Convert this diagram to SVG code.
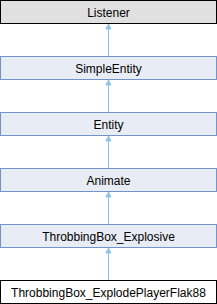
<svg xmlns="http://www.w3.org/2000/svg" width="217" height="304" viewBox="0 0 217 304">
<style>
.box{fill:#e8ecf5;stroke:#7394c8;stroke-width:1}
.root{fill:#e0e0e0;stroke:#000;stroke-width:1}
.leaf{fill:#fff;stroke:#000;stroke-width:1}
text{font-family:"Liberation Sans",Arial,sans-serif;font-size:12px;text-anchor:middle;fill:#000}
.edge{stroke:#8cc4e8;stroke-width:1;fill:none}
.head{fill:#8cc4e8;stroke:#8cc4e8}
</style>
<g id="connectors">
<line class="edge" x1="108.5" y1="56" x2="108.5" y2="28"/><polygon class="head" points="108.5,24 106,29 111,29"/>
<line class="edge" x1="108.5" y1="112" x2="108.5" y2="84"/><polygon class="head" points="108.5,80 106,85 111,85"/>
<line class="edge" x1="108.5" y1="168" x2="108.5" y2="140"/><polygon class="head" points="108.5,136 106,141 111,141"/>
<line class="edge" x1="108.5" y1="224" x2="108.5" y2="196"/><polygon class="head" points="108.5,192 106,197 111,197"/>
<line class="edge" x1="108.5" y1="280" x2="108.5" y2="252"/><polygon class="head" points="108.5,248 106,253 111,253"/>
</g>
<g id="Listener"><rect class="root" x="0.5" y="0.5" width="216" height="23"/><text x="108.5" y="16.5">Listener</text></g>
<g id="SimpleEntity"><rect class="box" x="0.5" y="56.5" width="216" height="23"/><text x="108.5" y="72.5">SimpleEntity</text></g>
<g id="Entity"><rect class="box" x="0.5" y="112.5" width="216" height="23"/><text x="108.5" y="128.5">Entity</text></g>
<g id="Animate"><rect class="box" x="0.5" y="168.5" width="216" height="23"/><text x="108.5" y="184.5">Animate</text></g>
<g id="ThrobbingBox_Explosive"><rect class="box" x="0.5" y="224.5" width="216" height="23"/><text x="108.5" y="240.5">ThrobbingBox_Explosive</text></g>
<g id="ThrobbingBox_ExplodePlayerFlak88"><rect class="leaf" x="0.5" y="280.5" width="216" height="23"/><text x="108.5" y="296.5">ThrobbingBox_ExplodePlayerFlak88</text></g>
</svg>
